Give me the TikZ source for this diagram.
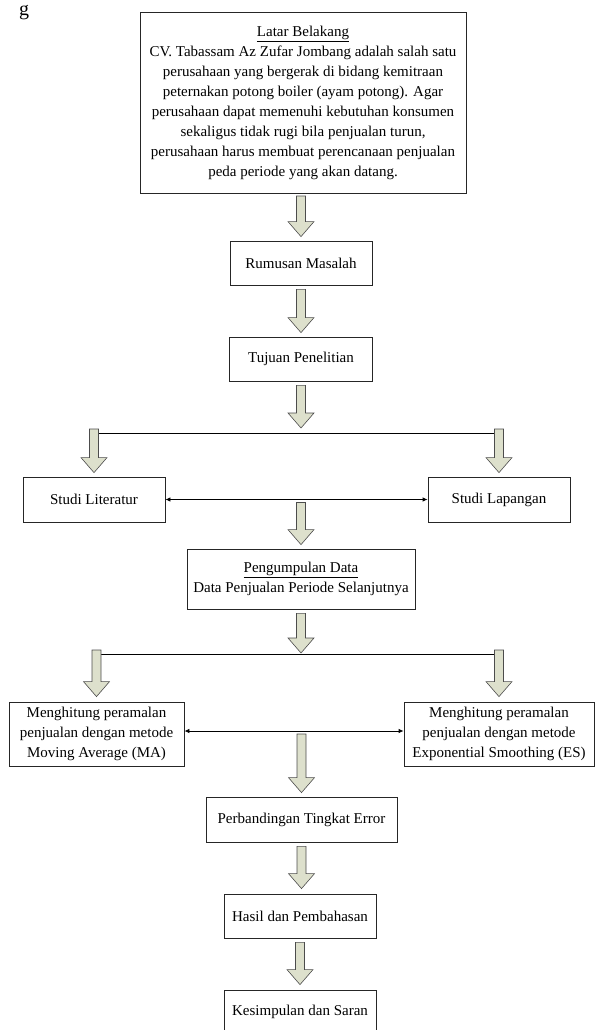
\documentclass[tikz,border=0pt]{standalone}
\usepackage{fontspec}
\setmainfont{Liberation Serif}
\usetikzlibrary{arrows.meta,calc}
\definecolor{arrowfill}{RGB}{221,224,204}

% thick block arrow pointing down, from #1 to #2
\newcommand{\fatarrow}[2]{%
  \draw[fat] let \p1=(#1), \p2=(#2) in
    (\x1-4.5pt,\y1) -- (\x1-4.5pt,\y2+15pt) -- (\x1-13pt,\y2+15pt) -- (\x1,\y2)
    -- (\x1+13pt,\y2+15pt) -- (\x1+4.5pt,\y2+15pt) -- (\x1+4.5pt,\y1) -- cycle;}

\begin{document}
\begin{tikzpicture}[x=1pt,y=-1pt,
    box/.style={draw=black!85,line width=0.8pt,align=center,inner sep=0pt,
      minimum height=44pt,font=\fontsize{15}{20}\selectfont},
    fat/.style={fill=arrowfill,draw=black!70,line width=0.6pt},
    link/.style={line width=0.8pt,{Latex[length=5pt,width=4.5pt]}-{Latex[length=5pt,width=4.5pt]}}]
  \useasboundingbox (0,0) rectangle (595,1030);

  \node (cap) [anchor=base west,inner sep=0pt,font=\fontsize{20}{20}\selectfont] at (19,16) {g};

  \node (lb) [box,minimum width=326pt,minimum height=181pt] at (303,102.5)
    {\underline{Latar Belakang}\\
     CV. Tabassam Az Zufar Jombang adalah salah satu\\
     perusahaan yang bergerak di bidang kemitraan\\
     peternakan potong boiler (ayam potong). Agar\\
     perusahaan dapat memenuhi kebutuhan konsumen\\
     sekaligus tidak rugi bila penjualan turun,\\
     perusahaan harus membuat perencanaan penjualan\\
     peda periode yang akan datang.};
  \node (rm) [box,minimum width=142pt] at (301,263) {Rumusan Masalah};
  \node (tp) [box,minimum width=143pt] at (301,359) {Tujuan Penelitian};
  \node (sl) [box,minimum width=142pt,minimum height=45pt] at (94,499.5) {Studi Literatur};
  \node (slp) [box,minimum width=142pt,minimum height=45pt] at (499,499.5) {Studi Lapangan};
  \node (pd) [box,minimum width=228pt,minimum height=60pt] at (301,579)
    {\underline{Pengumpulan Data}\\ Data Penjualan Periode Selanjutnya};
  \node (ma) [box,minimum width=175pt,minimum height=64pt] at (96.5,734)
    {Menghitung peramalan\\ penjualan dengan metode\\ Moving Average (MA)};
  \node (es) [box,minimum width=190pt,minimum height=64pt] at (499,734)
    {Menghitung peramalan\\ penjualan dengan metode\\ Exponential Smoothing (ES)};
  \node (pte) [box,minimum width=191pt,minimum height=45pt] at (301.5,819.5) {Perbandingan Tingkat Error};
  \node (hp) [box,minimum width=152pt] at (300,916) {Hasil dan Pembahasan};
  \node (ks) [box,minimum width=152pt] at (300,1012) {Kesimpulan dan Saran};

  \coordinate (fork1) at (301,433);
  \coordinate (fork2) at (301,654);
  \coordinate (m1) at (pd.north |- sl.east);
  \coordinate (m2) at (pte.north |- ma.east);

  % split lines and side links
  \draw[line width=0.8pt] (sl.north |- fork1) -- (slp.north |- fork1);
  \draw[line width=0.8pt] (ma.north |- fork2) -- (es.north |- fork2);
  \draw[link] (sl.east) -- (slp.west);
  \draw[link] ([yshift=3pt]ma.east) -- ([yshift=3pt]es.west);

  \fatarrow{$(301,193)+(0,3)$}{$(rm.north)+(0,-4)$}
  \fatarrow{$(rm.south)+(0,4)$}{$(tp.north)+(0,-4)$}
  \fatarrow{$(tp.south)+(0,4)$}{$(fork1)+(0,-5)$}
  \fatarrow{$(sl.north |- fork1)+(0,-4)$}{$(sl.north)+(0,-4)$}
  \fatarrow{$(slp.north |- fork1)+(0,-4)$}{$(slp.north)+(0,-4)$}
  \fatarrow{$(m1)+(0,3)$}{$(pd.north)+(0,-4)$}
  \fatarrow{$(pd.south)+(0,4)$}{$(fork2)+(0,-1)$}
  \fatarrow{$(ma.north |- fork2)+(0,-4)$}{$(ma.north)+(0,-5)$}
  \fatarrow{$(es.north |- fork2)+(0,-4)$}{$(es.north)+(0,-5)$}
  \fatarrow{m2}{$(pte.north)+(0,-4)$}
  \fatarrow{$(pte.south)+(0,4)$}{$(hp.north)+(0,-5)$}
  \fatarrow{$(hp.south)+(0,4)$}{$(ks.north)+(0,-5)$}
\end{tikzpicture}
\end{document}
